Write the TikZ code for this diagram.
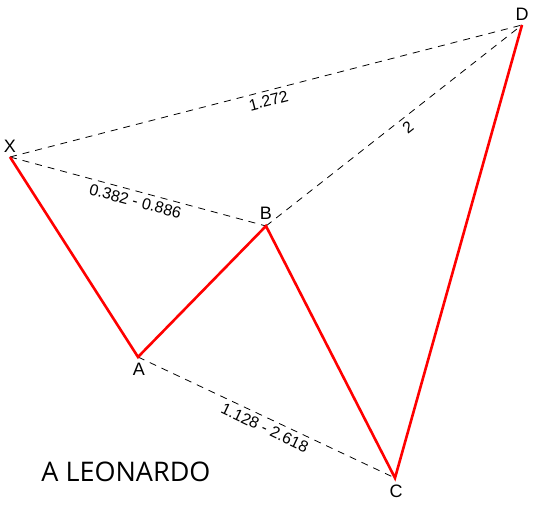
\documentclass[tikz,border=0pt]{standalone}
\usepackage{fontspec}
\setmainfont{Liberation Sans}
\newfontfamily\titlefont{Open Sans}
\begin{document}
\begin{tikzpicture}[x=1pt,y=-1pt,
  leg/.style={red, line width=2.6pt},
  ratio/.style={black, line width=0.8pt, dash pattern=on 7pt off 6pt},
  ptlabel/.style={font=\fontsize{18}{18}\selectfont, inner sep=0pt},
  rlabel/.style={font=\fontsize{16}{16}\selectfont, inner sep=1pt, sloped}]
\useasboundingbox (0,0) rectangle (533,510);
\coordinate (X) at (10,157);
\coordinate (A) at (138,357);
\coordinate (B) at (266,226);
\coordinate (C) at (395,478);
\coordinate (D) at (522,25);
\draw[ratio] (X) -- node[rlabel, below=3pt, pos=0.5] {1.272} (D);
\draw[ratio] (X) -- node[rlabel, below=3pt, pos=0.5] {0.382 - 0.886} (B);
\draw[ratio] (B) -- node[rlabel, below=3pt, pos=0.53] {2} (D);
\draw[ratio] (A) -- node[rlabel, below=3pt, pos=0.51] {1.128 - 2.618} (C);
\draw[leg, line join=miter] (X) -- (A) -- (B) -- (C) -- (D);
\node[ptlabel] (lx) at (10,146) {X};
\node[ptlabel] (la) at (139,369) {A};
\node[ptlabel] (lb) at (266,213) {B};
\node[ptlabel] (lc) at (396,491) {C};
\node[ptlabel] (ld) at (522,14) {D};
\node[font=\titlefont\fontsize{27}{27}\selectfont, inner sep=0pt] (title) at (126,472) {A LEONARDO};
\end{tikzpicture}
\end{document}
